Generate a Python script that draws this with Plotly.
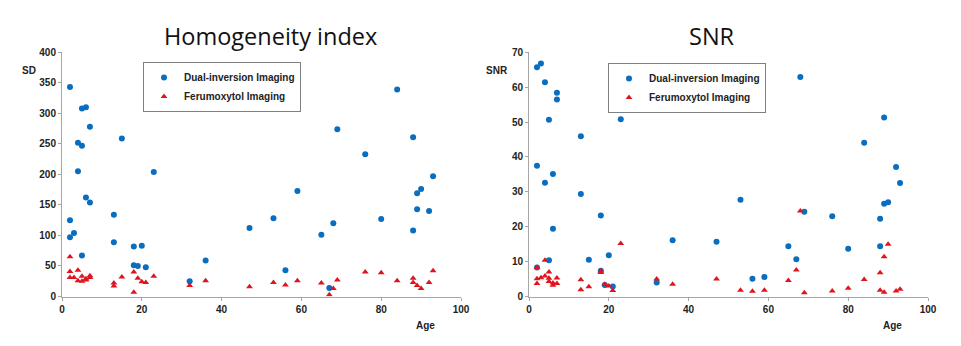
import plotly.graph_objects as go

# ---- Homogeneity index (SD) ----
hi_dual_age = [2, 5, 6, 7, 4, 5, 4, 6, 7, 2, 3, 2, 5, 13, 13, 15, 23, 18, 20, 18, 19, 21, 32, 36,
               47, 53, 56, 59, 65, 67, 68, 69, 76, 80, 84, 88, 88, 89, 89, 90, 92, 93]
hi_dual_sd = [343, 308, 310, 278, 252, 247, 205, 162, 154, 125, 104, 97, 67, 134, 89, 259, 204, 82, 83, 51, 50, 48, 25, 59,
              112, 128, 43, 173, 101, 14, 120, 274, 233, 127, 339, 261, 108, 169, 143, 176, 140, 197]
hi_feru_age = [2, 2, 2, 3, 4, 4, 5, 5, 6, 6, 7, 7, 13, 13, 15, 18, 18, 19, 20, 21, 23, 32, 36,
               47, 53, 56, 59, 65, 67, 68, 69, 76, 80, 84, 88, 88, 89, 90, 92, 93]
hi_feru_sd = [65, 41, 31, 31, 43, 26, 33, 25, 29, 27, 34, 31, 22, 17, 32, 40, 7, 30, 24, 23, 33, 18, 26,
              16, 23, 19, 26, 22, 3, 13, 27, 40, 39, 26, 30, 23, 18, 13, 23, 42]

# ---- SNR ----
snr_dual_age = [2, 3, 4, 7, 7, 5, 2, 4, 6, 6, 5, 2, 13, 13, 15, 18, 18, 20, 19, 21, 23, 32, 36,
                47, 53, 56, 59, 65, 67, 68, 69, 76, 80, 84, 88, 88, 89, 89, 90, 92, 93]
snr_dual_val = [65.7, 66.8, 61.4, 58.4, 56.5, 50.7, 37.5, 32.6, 35.1, 19.4, 10.4, 8.3, 45.9, 29.4, 10.5, 23.2, 7.4, 11.8, 3.3, 2.9, 50.8, 4.0, 16.1,
                15.7, 27.7, 5.1, 5.6, 14.4, 10.7, 62.9, 24.3, 23.0, 13.7, 44.1, 22.3, 14.4, 51.3, 26.6, 27.0, 37.1, 32.5]
snr_feru_age = [2, 2, 2, 3, 4, 4, 5, 5, 5, 6, 6, 7, 7, 13, 13, 15, 18, 18, 19, 20, 21, 23, 32, 36,
                47, 53, 56, 59, 65, 67, 68, 69, 76, 80, 84, 88, 88, 89, 89, 90, 92, 93]
snr_feru_val = [8.3, 5.1, 3.7, 5.4, 5.9, 10.4, 7.0, 5.2, 4.3, 3.9, 3.2, 5.3, 3.7, 4.8, 1.9, 2.8, 7.3, 6.9, 3.5, 3.0, 1.7, 15.2, 5.0, 3.5,
                5.0, 1.8, 1.5, 1.8, 4.6, 7.6, 24.5, 1.1, 1.6, 2.4, 4.9, 6.8, 1.8, 11.4, 1.2, 15.0, 1.6, 2.1]

x_ticks = [0, 20, 40, 60, 80, 100]
sd_ticks = [0, 50, 100, 150, 200, 250, 300, 350, 400]
snr_ticks = [0, 10, 20, 30, 40, 50, 60, 70]

BLUE = "#0A6EC0"
RED = "#E0141E"
OFF = 8  # page body margin
W, H = 961 - OFF, 346 - OFF

fig = go.Figure()
def add(x, y, name, color, symbol, xa, ya, legend):
    fig.add_trace(go.Scatter(
        x=x, y=y, mode="markers", name=name, xaxis=xa, yaxis=ya, legend=legend,
        marker=dict(color=color, symbol=symbol, size=6, line=dict(width=0)),
    ))

add(hi_dual_age, hi_dual_sd, "Dual-inversion Imaging", BLUE, "circle", "x", "y", "legend")
add(hi_feru_age, hi_feru_sd, "Ferumoxytol Imaging", RED, "triangle-up", "x", "y", "legend")
add(snr_dual_age, snr_dual_val, "Dual-inversion Imaging", BLUE, "circle", "x2", "y2", "legend2")
add(snr_feru_age, snr_feru_val, "Ferumoxytol Imaging", RED, "triangle-up", "x2", "y2", "legend2")

px = lambda v: (v - OFF) / W
py = lambda v: 1 - (v - OFF) / H

tickfont = dict(family="Liberation Sans, Arial, sans-serif", size=10, color="#222222", weight="bold")
axis_common = dict(showgrid=False, zeroline=False, showline=True, linecolor="#A6A6A6", linewidth=1,
                   ticks="outside", ticklen=3, tickcolor="#A6A6A6", tickfont=tickfont, automargin=False)

ybot, ytop = py(296.5), py(52.3)
legfont = dict(family="Liberation Sans, Arial, sans-serif", size=10, color="#222222", weight="bold")
fig.update_layout(
    width=W, height=H,
    margin=dict(l=0, r=0, t=0, b=0, autoexpand=False),
    paper_bgcolor="white", plot_bgcolor="white",
    xaxis=dict(domain=[px(62), px(461)], range=[0, 100], tickvals=x_ticks, anchor="y", **axis_common),
    yaxis=dict(domain=[ybot, ytop], range=[0, 400], tickvals=sd_ticks, anchor="x", **axis_common),
    xaxis2=dict(domain=[px(529), px(928)], range=[0, 100], tickvals=x_ticks, anchor="y2", **axis_common),
    yaxis2=dict(domain=[ybot, ytop], range=[0, 70], tickvals=snr_ticks, anchor="x2", **axis_common),
    legend=dict(x=px(143), y=py(62), xanchor="left", yanchor="top",
                bordercolor="#808080", borderwidth=1, bgcolor="white",
                font=legfont, tracegroupgap=0, itemwidth=30),
    legend2=dict(x=px(608), y=py(63), xanchor="left", yanchor="top",
                 bordercolor="#808080", borderwidth=1, bgcolor="white",
                 font=legfont, tracegroupgap=0, itemwidth=30),
    showlegend=True,
)

def ann(text, x, y, size, weight="normal", family="Liberation Sans, Arial, sans-serif", color="#222222"):
    fig.add_annotation(text=text, x=px(x), y=py(y), xref="paper", yref="paper",
                       showarrow=False, xanchor="center", yanchor="middle",
                       font=dict(size=size, family=family, color=color, weight=weight))

ann("Homogeneity index", 270, 36, 23.5, family="Open Sans, sans-serif", color="#111111")
ann("SNR", 712, 36, 23.5, family="Open Sans, sans-serif", color="#111111")
ann("SD", 29, 71, 10, weight="bold")
ann("SNR", 497, 71, 10, weight="bold")
ann("Age", 425, 325, 10, weight="bold")
ann("Age", 892, 325, 10, weight="bold")

fig.write_html("out.html")
